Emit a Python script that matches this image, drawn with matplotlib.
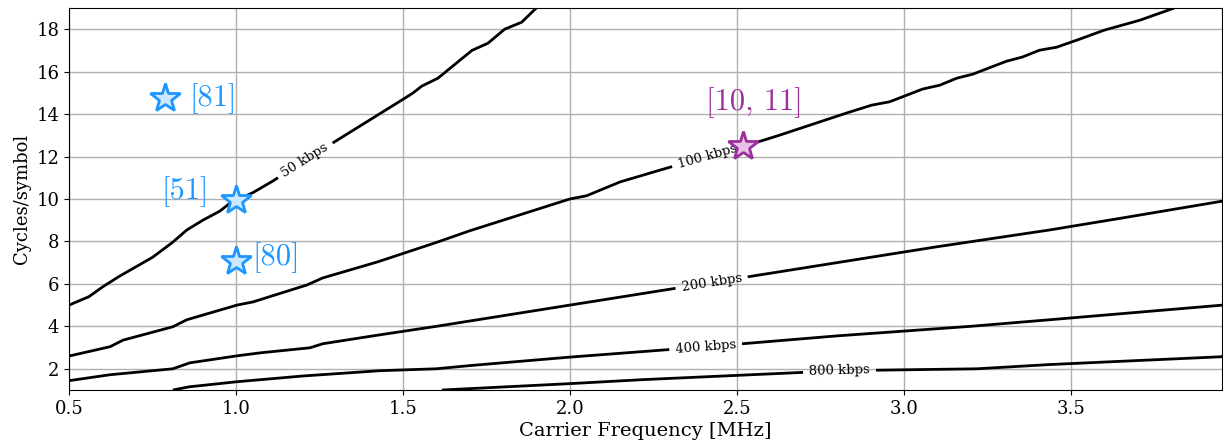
import numpy as np
import matplotlib
matplotlib.use("Agg")
import matplotlib.pyplot as plt
from matplotlib.contour import ContourSet

plt.rcParams["font.family"] = "serif"
plt.rcParams["font.serif"] = ["DejaVu Serif"]

# Constant bit-rate curves: (carrier frequency [MHz], cycles/symbol)
rates_kbps = [50, 100, 200, 400, 800]
rate_labels = {50: "50 kbps", 100: "100 kbps", 200: "200 kbps",
               400: "400 kbps", 800: "800 kbps"}

f_50 = [0.5, 0.56, 0.6, 0.65, 0.7, 0.75, 0.808, 0.853, 0.901, 0.952,
        0.982, 1.051, 1.111, 1.2, 1.29, 1.506, 1.53, 1.557, 1.605, 1.707,
        1.755, 1.805, 1.856, 1.90]
c_50 = [5.0, 5.4, 5.85, 6.35, 6.8, 7.25, 7.93, 8.54, 9.0, 9.43,
        9.8, 10.3, 10.85, 11.75, 12.64, 14.75, 14.99, 15.32, 15.69, 17.0,
        17.34, 18.0, 18.33, 19.0]

f_100 = [0.5, 0.623, 0.662, 0.811, 0.853, 1.003, 1.051, 1.213, 1.26, 1.425,
         1.6, 1.7, 1.85, 2.0, 2.05, 2.15, 2.27, 2.4, 2.524, 2.629, 2.829,
         2.904, 2.958, 3.057, 3.108, 3.159, 3.207, 3.308, 3.356, 3.407,
         3.458, 3.527, 3.60, 3.707, 3.811]
c_100 = [2.6, 3.04, 3.35, 3.98, 4.31, 5.0, 5.15, 5.95, 6.28, 7.04,
         7.95, 8.5, 9.25, 10.0, 10.15, 10.8, 11.36, 11.95, 12.49, 13.01, 14.05,
         14.42, 14.58, 15.18, 15.36, 15.69, 15.88, 16.49, 16.69, 17.01,
         17.15, 17.53, 17.95, 18.42, 19.0]

f_200 = [0.5, 0.623, 0.811, 0.862, 1.003, 1.072, 1.222, 1.26, 1.431, 1.6,
         2.0, 2.42, 2.8, 3.1, 3.437, 3.653, 3.955]
c_200 = [1.44, 1.72, 2.0, 2.28, 2.61, 2.75, 2.99, 3.18, 3.6, 4.0,
         5.0, 6.05, 7.0, 7.75, 8.54, 9.1, 9.9]

f_400 = [0.811, 0.86, 1.003, 1.2, 1.431, 1.6, 1.7, 2.0, 2.41, 2.8, 3.2,
         3.437, 3.955]
c_400 = [1.0, 1.15, 1.39, 1.66, 1.91, 2.0, 2.15, 2.55, 3.04, 3.55, 4.0,
         4.31, 5.0]

f_800 = [1.617, 2.0, 2.22, 2.81, 3.22, 3.437, 3.955]
c_800 = [1.0, 1.3, 1.49, 1.91, 2.0, 2.2, 2.57]

curve_f = [f_50, f_100, f_200, f_400, f_800]
curve_c = [c_50, c_100, c_200, c_400, c_800]

# Inline label anchor positions (MHz, cycles/symbol)
label_pos = [(1.207, 11.84), (2.413, 11.93), (2.425, 6.05),
             (2.407, 3.04), (2.808, 1.91)]

# Reported systems
sys_labels = ["[81]", "[51]", "[80]", "[10, 11]"]
sys_f = [0.787, 1.0, 1.0, 2.518]
sys_c = [14.75, 9.95, 7.08, 12.49]

blue_edge, blue_face = "#1e96ff", "#cce8ff"
purple_edge, purple_face = "#9b2f9b", "#e6c2e6"

fig = plt.figure(figsize=(12.23, 4.43), dpi=100)
ax = fig.add_axes([0.0564, 0.1196, 0.9426, 0.8624])

allsegs = [[np.column_stack([f, c])] for f, c in zip(curve_f, curve_c)]
cs = ContourSet(ax, rates_kbps, allsegs, colors="k", linewidths=2.0)
ax.clabel(cs, fmt=rate_labels, manual=label_pos, inline=True,
          fontsize=9.5, inline_spacing=6)

# Star markers for the cited works
for i, (fx, cy) in enumerate(zip(sys_f, sys_c)):
    if i < 3:
        ec, fc = blue_edge, blue_face
    else:
        ec, fc = purple_edge, purple_face
    ax.plot(fx, cy, marker="*", markersize=22, markeredgewidth=2,
            markeredgecolor=ec, markerfacecolor=fc, linestyle="none",
            zorder=5)

cite_font = dict(family="cmr10", fontsize=22)
ax.text(0.862, 14.75, sys_labels[0], color=blue_edge, ha="left",
        va="center", **cite_font)
ax.text(0.918, 10.33, sys_labels[1], color=blue_edge, ha="right",
        va="center", **cite_font)
ax.text(1.049, 7.22, sys_labels[2], color=blue_edge, ha="left",
        va="center", **cite_font)
ax.text(2.554, 14.56, sys_labels[3], color=purple_edge, ha="center",
        va="center", **cite_font)

ax.set_xlim(0.5, 3.953)
ax.set_ylim(1.0, 19.0)
ax.set_xticks([0.5, 1.0, 1.5, 2.0, 2.5, 3.0, 3.5])
ax.set_yticks([2, 4, 6, 8, 10, 12, 14, 16, 18])
ax.tick_params(labelsize=13)
ax.set_xlabel("Carrier Frequency [MHz]", fontsize=14, labelpad=3)
ax.set_ylabel("Cycles/symbol", fontsize=13, labelpad=4)
ax.grid(True, color="#b0b0b0", linewidth=1.0)
ax.set_axisbelow(True)

fig.savefig("out.png", dpi=100)
